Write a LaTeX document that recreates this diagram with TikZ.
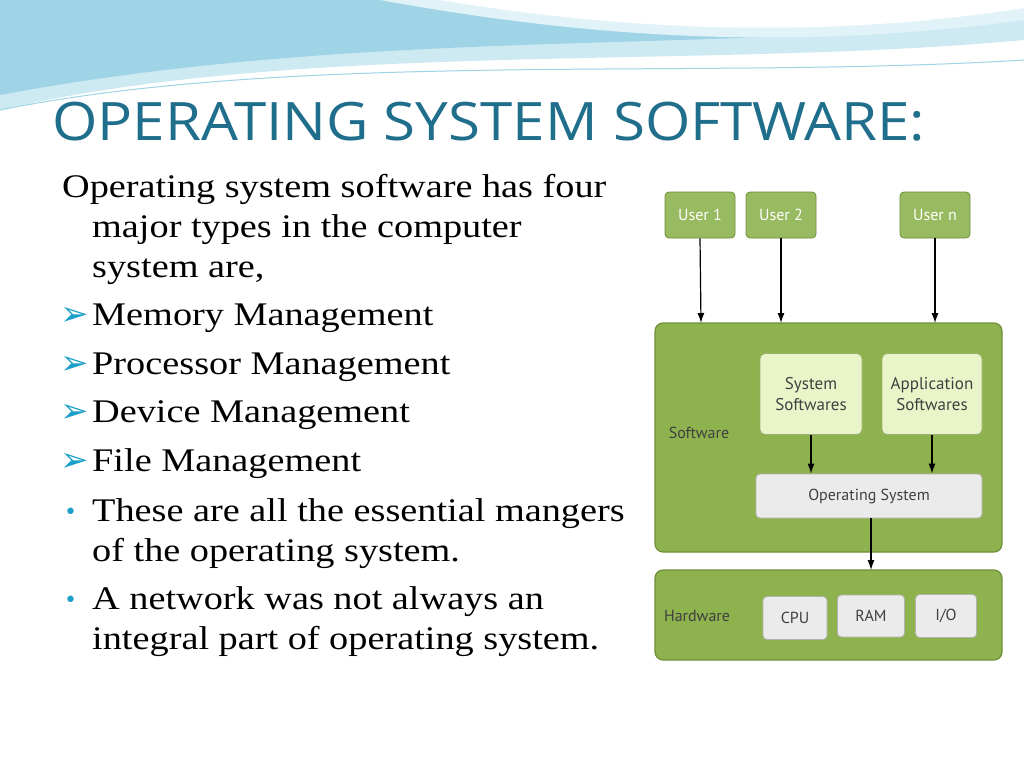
\documentclass[tikz,border=0pt]{standalone}
\usepackage{fontspec}
\setmainfont{Liberation Serif}[FakeStretch=1.16]
\newfontfamily\titlefont{Open Sans}[FakeStretch=1.1]
\newfontfamily\labfont{PT Sans}
\newfontfamily\symfont{DejaVu Sans}
\usetikzlibrary{arrows.meta}
\definecolor{teal1}{HTML}{1F6E8C}
\definecolor{bul}{HTML}{1AA0C8}
\definecolor{gfill}{HTML}{8DB24E}
\definecolor{gdraw}{HTML}{6F8F3A}
\definecolor{lgfill}{HTML}{E9F5C8}
\definecolor{wave1}{HTML}{9FD3E6}
\definecolor{wave2}{HTML}{CDEAF3}
\begin{document}
\begin{tikzpicture}[x=1pt,y=-1pt,
 gbox/.style={draw=gdraw,fill=gfill,rounded corners=8pt,line width=1.2pt},
 lbox/.style={draw=gdraw!70,fill=lgfill,rounded corners=5pt,line width=0.8pt,align=center,font=\labfont\fontsize{17}{21}\selectfont,text=black!75},
 ubox/.style={draw=gdraw,fill=gfill!90,rounded corners=4pt,line width=0.8pt,font=\labfont\fontsize{16}{18}\selectfont,text=white},
 gray box/.style={draw=black!30,fill=black!8,rounded corners=4pt,line width=0.8pt,font=\labfont\fontsize{16}{18}\selectfont,text=black!75},
 arr/.style={-{Latex[length=10pt,width=7pt]},line width=1.2pt},
 btext/.style={anchor=base west,font=\fontsize{33}{40}\selectfont}]
\useasboundingbox (0,0) rectangle (1024,768);
\fill[white] (0,0) rectangle (1024,768);
% top waves
\fill[wave2] (0,0) -- (1024,0) -- (1024,40) .. controls (700,70) and (300,40) .. (0,110) -- cycle;
\fill[wave1] (0,0) -- (1024,0) -- (1024,10) .. controls (800,60) and (400,20) .. (0,95) -- cycle;
\fill[wave2!60] (380,0) .. controls (600,40) and (800,50) .. (1024,20) -- (1024,0) -- cycle;
\fill[white] (440,0) .. controls (620,30) and (820,40) .. (1024,8) -- (1024,0) -- cycle;
\draw[wave1,line width=1pt] (0,110) .. controls (300,50) and (700,80) .. (1024,60);
% title
\node[anchor=base west,inner sep=0,text=teal1,font=\titlefont\fontsize{53}{58}\selectfont] (title) at (52,140) {OPERATING SYSTEM SOFTWARE:};
% body
\node[btext,inner sep=0] (t1) at (62,197) {Operating system software has four};
\node[btext,inner sep=0] (t2) at (92,237) {major types in the computer};
\node[btext,inner sep=0] (t3) at (92,277) {system are,};
\node[btext,inner sep=0] (t4) at (92,325) {Memory Management};
\node[btext,inner sep=0] (t5) at (92,374) {Processor Management};
\node[btext,inner sep=0] (t6) at (92,422) {Device Management};
\node[btext,inner sep=0] (t7) at (92,471) {File Management};
\node[btext,inner sep=0] (t8) at (92,521) {These are all the essential mangers};
\node[btext,inner sep=0] (t9) at (92,561) {of the operating system.};
\node[btext,inner sep=0] (t10) at (92,609) {A network was not always an};
\node[btext,inner sep=0] (t11) at (92,649) {integral part of operating system.};
\foreach \y/\n in {325/b1,374/b2,422/b3,471/b4}
  \node[anchor=base west,inner sep=0,text=bul,font=\symfont\fontsize{34}{38}\selectfont] (\n) at (60,\y) {➢};
\foreach \y/\n in {521/b5,609/b6}
  \node[anchor=base west,inner sep=0,text=bul,font=\symfont\fontsize{22}{28}\selectfont] (\n) at (64,\y-2) {•};
% diagram
\fill[white] (648,180) rectangle (1024,665);
\node[ubox,minimum width=70pt,minimum height=46pt] (u1) at (700,215) {User 1};
\node[ubox,minimum width=70pt,minimum height=46pt] (u2) at (781,215) {User 2};
\node[ubox,minimum width=70pt,minimum height=46pt] (un) at (935,215) {User n};
\draw[gbox] (655,323) rectangle (1002,552);
\node[inner sep=0,font=\labfont\fontsize{16}{18}\selectfont,text=black!75] (swl) at (699,433) {Software};
\coordinate (swtop1) at (701,323);
\coordinate (swtop2) at (781,323);
\coordinate (swtop3) at (935,323);
\node[lbox,minimum width=102pt,minimum height=81pt] (ss) at (811,394) {System\\Softwares};
\node[lbox,minimum width=100pt,minimum height=81pt] (as) at (932,394) {Application\\Softwares};
\node[gray box,minimum width=226pt,minimum height=44pt] (os) at (869,496) {Operating System};
\draw[gbox] (655,570) rectangle (1002,660);
\node[inner sep=0,font=\labfont\fontsize{16}{18}\selectfont,text=black!75] (hwl) at (697,616) {Hardware};
\coordinate (hwtop) at (871,570);
\node[gray box,minimum width=64pt,minimum height=43pt] (cpu) at (795,618) {CPU};
\node[gray box,minimum width=67pt,minimum height=42pt] (ram) at (871,616) {RAM};
\node[gray box,minimum width=61pt,minimum height=43pt] (io) at (946,616) {I/O};
\draw[arr] (u1.south) -- (swtop1);
\draw[arr] (u2.south) -- (swtop2);
\draw[arr] (un.south) -- (swtop3);
\draw[arr] (ss.south) -- (ss.south |- os.north);
\draw[arr] (as.south) -- (as.south |- os.north);
\draw[arr] (os.south -| hwtop) -- (hwtop);
\end{tikzpicture}
\end{document}
